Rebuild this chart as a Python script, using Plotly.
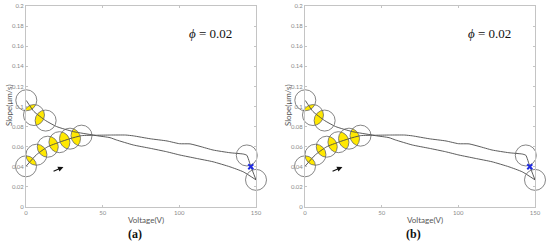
import numpy as np
import plotly.graph_objects as go

# ---- data (both panels show the same curve) ----
forward_v = [0, 6.8, 14.2, 21.8, 28.7, 36.2, 46, 55, 65, 70, 81, 92, 100, 107,
             113.5, 122, 133, 141.7, 144, 146.6, 150]
forward_s = [0.0405, 0.0520, 0.0600, 0.0645, 0.0680, 0.0710, 0.0714, 0.0716,
             0.0716, 0.0708, 0.0679, 0.0657, 0.0630, 0.0628, 0.0603, 0.0567,
             0.0540, 0.0527, 0.0515, 0.0405, 0.0270]

backward_v = [150, 141.7, 133, 122, 111, 100.4, 91.7, 81, 70, 59, 54.8, 46,
              43.9, 30.9, 20, 12.8, 5.2, 0.2]
backward_s = [0.0270, 0.0350, 0.0400, 0.0450, 0.0484, 0.0517, 0.0550, 0.0584,
              0.0617, 0.0667, 0.0690, 0.0710, 0.0716, 0.0750, 0.0800, 0.0860,
              0.0950, 0.1060]

upper_circle_v = [0.2, 5.2, 12.8]
upper_circle_s = [0.1062, 0.0915, 0.0860]
lower_circle_v = [0, 6.8, 14.2, 21.8, 28.7, 36.2]
lower_circle_s = [0.0405, 0.0520, 0.0600, 0.0645, 0.0680, 0.0710]
end_circle_v = [144, 150]
end_circle_s = [0.0513, 0.0270]

cross_v, cross_s = [146.6], [0.0400]
arrow_tail = (17.0, 0.0350)
arrow_head = (24.4, 0.0398)

x_ticks = [0, 50, 100, 150]
y_ticks = [0, 0.02, 0.04, 0.06, 0.08, 0.1, 0.12, 0.14, 0.16, 0.18, 0.2]
y_tick_text = ["0", "0.02", "0.04", "0.06", "0.08", "0.1", "0.12", "0.14",
               "0.16", "0.18", "0.2"]
panel_labels = ["(a)", "(b)"]
phi_text = "<i>ϕ</i> = 0.02"

# ---- layout geometry ----
W, H = 550, 243
MARGIN = dict(l=26, r=15, t=6, b=36, autoexpand=False)
PLOT_W = W - MARGIN["l"] - MARGIN["r"]
PLOT_H = H - MARGIN["t"] - MARGIN["b"]
PANEL_W = 230
X_RANGE = [0, 150]
Y_RANGE = [0, 0.2]
KX = PANEL_W / (X_RANGE[1] - X_RANGE[0])
KY = PLOT_H / (Y_RANGE[1] - Y_RANGE[0])
R_PX = 10.5

LINE = "#4a4a4a"
CIRCLE = "#666666"
YELLOW = "#ffe800"
AXIS = "#c4c4c4"
TICK_TXT = "#8a8a8a"
LABEL_TXT = "#555555"

domains = [[0, PANEL_W / PLOT_W], [1 - PANEL_W / PLOT_W, 1]]


def lens(c1, c2, r=R_PX, n=24):
    """Overlap region of two equal pixel circles, returned in data units."""
    x1, y1 = c1[0] * KX, c1[1] * KY
    x2, y2 = c2[0] * KX, c2[1] * KY
    d = np.hypot(x2 - x1, y2 - y1)
    if d >= 2 * r:
        return None
    a = np.arccos(d / (2 * r))
    t = np.arctan2(y2 - y1, x2 - x1)
    th1 = np.linspace(t - a, t + a, n)
    th2 = np.linspace(t + np.pi - a, t + np.pi + a, n)
    xs = np.concatenate([x1 + r * np.cos(th1), x2 + r * np.cos(th2)])
    ys = np.concatenate([y1 + r * np.sin(th1), y2 + r * np.sin(th2)])
    return xs / KX, ys / KY


fig = go.Figure()

for i in range(2):
    xa = "x" if i == 0 else "x2"
    ya = "y" if i == 0 else "y2"

    # yellow overlaps between neighbouring circles
    for cv, cs in [(upper_circle_v, upper_circle_s), (lower_circle_v, lower_circle_s)]:
        pts = list(zip(cv, cs))
        for p, q in zip(pts[:-1], pts[1:]):
            shape = lens(p, q)
            if shape is None:
                continue
            fig.add_trace(go.Scatter(
                x=shape[0], y=shape[1], xaxis=xa, yaxis=ya, mode="lines",
                fill="toself", fillcolor=YELLOW, line=dict(width=0),
                hoverinfo="skip", showlegend=False,
            ))

    for v, s in [(forward_v, forward_s), (backward_v, backward_s)]:
        fig.add_trace(go.Scatter(
            x=v, y=s, xaxis=xa, yaxis=ya, mode="lines",
            line=dict(color=LINE, width=0.9, shape="spline", smoothing=0.5),
            showlegend=False,
        ))

    fig.add_trace(go.Scatter(
        x=upper_circle_v + lower_circle_v + end_circle_v,
        y=upper_circle_s + lower_circle_s + end_circle_s,
        xaxis=xa, yaxis=ya, mode="markers", cliponaxis=False,
        marker=dict(symbol="circle-open", size=2 * R_PX,
                    line=dict(color=CIRCLE, width=0.8), color=CIRCLE),
        showlegend=False,
    ))

    fig.add_trace(go.Scatter(
        x=cross_v, y=cross_s, xaxis=xa, yaxis=ya, mode="markers",
        marker=dict(symbol="x-thin", size=5, line=dict(color="#1f2be0", width=2)),
        showlegend=False,
    ))

    fig.add_annotation(
        x=arrow_head[0], y=arrow_head[1], ax=arrow_tail[0], ay=arrow_tail[1],
        xref=xa, yref=ya, axref=xa, ayref=ya, text="", showarrow=True,
        arrowhead=2, arrowsize=0.9, arrowwidth=1.2, arrowcolor="#111111",
    )
    fig.add_annotation(
        x=0.8, y=0.865, xref=f"{xa} domain", yref=f"{ya} domain",
        xanchor="center", yanchor="middle",
        text=phi_text, showarrow=False,
        font=dict(family="Liberation Serif, serif", size=13, color="#111111"),
    )
    fig.add_annotation(
        x=0, y=0.507, xref=f"{xa} domain", yref=f"{ya} domain", xshift=-17,
        xanchor="center", yanchor="middle",
        text="Slope(μm/s)", textangle=-90, showarrow=False,
        font=dict(family="Lato, sans-serif", size=8, color=LABEL_TXT),
    )
    fig.add_annotation(
        x=0.52, y=0, xref=f"{xa} domain", yref=f"{ya} domain", yshift=-13,
        xanchor="center", yanchor="middle",
        text="Voltage(V)", showarrow=False,
        font=dict(family="Lato, sans-serif", size=8, color=LABEL_TXT),
    )
    fig.add_annotation(
        x=0.472, y=0, xref=f"{xa} domain", yref=f"{ya} domain", yshift=-27,
        xanchor="center", yanchor="middle",
        text=f"<b>{panel_labels[i]}</b>", showarrow=False,
        font=dict(family="Liberation Serif, serif", size=12, color="#111111"),
    )

axis_common = dict(
    showline=True, mirror="ticks", linecolor=AXIS, linewidth=1,
    ticks="inside", ticklen=2, tickcolor=AXIS, showgrid=False, zeroline=False,
    tickfont=dict(family="Lato, sans-serif", size=6, color=TICK_TXT),
    automargin=False, fixedrange=True,
)

fig.update_layout(
    width=W, height=H, margin=MARGIN,
    paper_bgcolor="white", plot_bgcolor="white",
    xaxis=dict(domain=domains[0], range=X_RANGE, tickvals=x_ticks, anchor="y", **axis_common),
    yaxis=dict(domain=[0, 1], range=Y_RANGE, tickvals=y_ticks, ticktext=y_tick_text,
               anchor="x", **axis_common),
    xaxis2=dict(domain=domains[1], range=X_RANGE, tickvals=x_ticks, anchor="y2", **axis_common),
    yaxis2=dict(domain=[0, 1], range=Y_RANGE, tickvals=y_ticks, ticktext=y_tick_text,
                anchor="x2", **axis_common),
    showlegend=False,
)

fig.write_html("out.html", config={"displayModeBar": False},
               post_script="document.body.style.margin='0';")
